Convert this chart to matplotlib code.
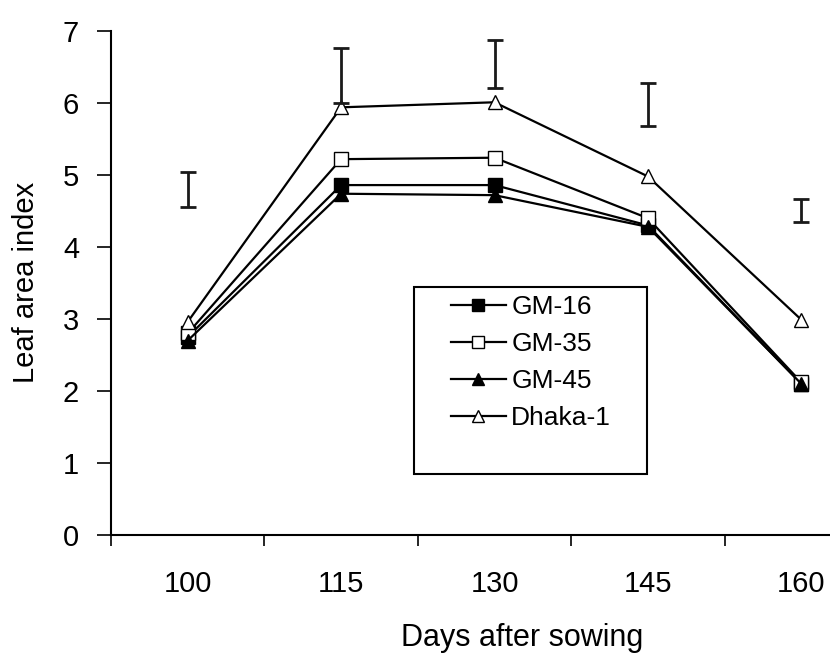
import matplotlib
matplotlib.use("Agg")
import matplotlib.pyplot as plt
from matplotlib.patches import Rectangle
import numpy as np

plt.rcParams['font.family'] = ['Liberation Sans', 'DejaVu Sans']

days = ["100", "115", "130", "145", "160"]
gm16 = [2.75, 4.86, 4.86, 4.30, 2.10]
gm35 = [2.80, 5.22, 5.24, 4.40, 2.12]
gm45 = [2.70, 4.74, 4.72, 4.28, 2.10]
dhaka1 = [2.96, 5.94, 6.01, 4.98, 2.99]
lsd_center = [4.80, 6.38, 6.54, 5.98, 4.51]
lsd_half = [0.24, 0.38, 0.33, 0.30, 0.16]

W, H = 830, 653
fig = plt.figure(figsize=(W / 100, H / 100), dpi=100)
ax = fig.add_axes([111 / W, (H - 535) / H, (878 - 111) / W, (535 - 31) / H])

x = np.arange(len(days))
common = dict(color='black', lw=1.6, markersize=10, clip_on=False)
ax.plot(x, gm16, marker='s', mfc='black', mec='black', label='GM-16', **common)
ax.plot(x, gm35, marker='s', mfc='white', mec='black', label='GM-35', **common)
ax.plot(x, gm45, marker='^', mfc='black', mec='black', label='GM-45', **common)
ax.plot(x, dhaka1, marker='^', mfc='white', mec='black', label='Dhaka-1', **common)

ax.errorbar(x, lsd_center, yerr=lsd_half, fmt='none', ecolor='#1a1a1a',
            elinewidth=2.0, capsize=6, capthick=2.0, clip_on=False)

ax.set_xlim(-0.5, 4.5)
ax.set_ylim(0, 7)
ax.set_xticks(x)
ax.set_xticklabels(days)
ax.set_xticks(np.arange(-0.5, 4.0, 1.0), minor=True)
ax.tick_params(axis='x', which='major', length=0, pad=25, labelsize=21)
ax.tick_params(axis='x', which='minor', length=8, width=1.2, direction='out')
ax.set_yticks(range(0, 8))
ax.tick_params(axis='y', which='major', length=10, width=1.2, direction='out', pad=13, labelsize=21)
for s in ['top', 'right']:
    ax.spines[s].set_visible(False)
for s in ['left', 'bottom']:
    ax.spines[s].set_linewidth(1.5)

ax.set_xlabel('Days after sowing', fontsize=22, va='top')
ax.xaxis.set_label_coords(522 / W, (H - 623) / H, transform=fig.transFigure)
ax.set_ylabel('Leaf area index', fontsize=21, va='center')
ax.yaxis.set_label_coords(26 / W, (H - 282) / H, transform=fig.transFigure)

leg = ax.legend(loc='upper left', bbox_to_anchor=(451 / W, (H - 295) / H),
                bbox_transform=fig.transFigure, frameon=False, fontsize=19,
                handlelength=2.08, handletextpad=0.2, labelspacing=0.49,
                borderpad=0, borderaxespad=0, markerscale=0.85)

fig.patches.append(Rectangle((414 / W, (H - 474) / H), 233 / W, 187 / H,
                             transform=fig.transFigure, fill=False,
                             edgecolor='black', lw=1.5))

fig.savefig('out.png', dpi=100)
